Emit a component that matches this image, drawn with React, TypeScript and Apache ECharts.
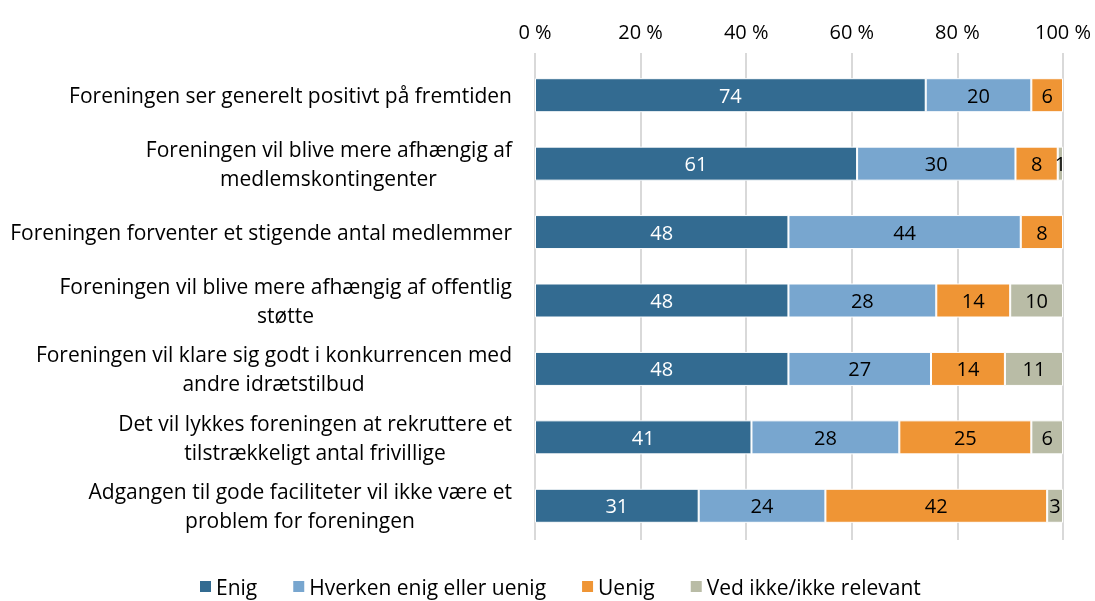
import React, { useEffect, useRef } from "react";
import * as echarts from "echarts";

const categories = [
  "Foreningen ser generelt positivt på fremtiden",
  "Foreningen vil blive mere afhængig af\nmedlemskontingenter",
  "Foreningen forventer et stigende antal medlemmer",
  "Foreningen vil blive mere afhængig af offentlig\nstøtte",
  "Foreningen vil klare sig godt i konkurrencen med\nandre idrætstilbud",
  "Det vil lykkes foreningen at rekruttere et\ntilstrækkeligt antal frivillige",
  "Adgangen til gode faciliteter vil ikke være et\nproblem for foreningen",
];

const seriesNames = ["Enig", "Hverken enig eller uenig", "Uenig", "Ved ikke/ikke relevant"];
const enig = [74, 61, 48, 48, 48, 41, 31];
const hverken = [20, 30, 44, 28, 27, 28, 24];
const uenig = [6, 8, 8, 14, 14, 25, 42];
const vedIkke = [null, 1, null, 10, 11, 6, 3];
const xTicks = { min: 0, max: 100, interval: 20 };

const colors = ["#336B91", "#78A6CF", "#EF9535", "#B9BCA6"];
const labelColors = ["#FFFFFF", "#000000", "#000000", "#000000"];
const FONT = "'Open Sans', sans-serif";
const FS = 21;
const AXFS = 20;

export default function App() {
  const ref = useRef<HTMLDivElement>(null);
  useEffect(() => {
    if (!ref.current) return;
    const chart = echarts.init(ref.current, undefined, { renderer: "svg" });
    const ctx = document.createElement("canvas").getContext("2d")!;
    ctx.font = `${FS}px ${FONT}`;
    const rich: Record<string, any> = {};
    categories.forEach((c, i) => {
      const lines = c.split("\n");
      if (lines.length > 1) {
        rich["w" + i] = {
          width: Math.ceil(ctx.measureText(lines[0]).width),
          align: "center",
          fontSize: FS,
          fontFamily: FONT,
          color: "#000",
          lineHeight: 29,
        };
      }
    });
    const all = [enig, hverken, uenig, vedIkke];
    chart.setOption({
      animation: false,
      textStyle: { fontFamily: FONT },
      color: colors,
      grid: { left: 535, right: 32, top: 61, bottom: 61 },
      legend: {
        top: 576,
        left: 198,
        padding: 0,
        itemWidth: 13,
        itemHeight: 13,
        itemGap: 34,
        icon: "rect",
        textStyle: { fontSize: FS, color: "#000", fontFamily: FONT, lineHeight: 21, padding: [0, 0, 0, -1] },
        data: seriesNames,
      },
      xAxis: {
        type: "value",
        position: "top",
        min: xTicks.min,
        max: xTicks.max,
        interval: xTicks.interval,
        axisLine: { show: false },
        axisTick: { show: true, length: 8, lineStyle: { color: "#D9D9D9", width: 2 } },
        splitLine: { show: true, lineStyle: { color: "#D9D9D9", width: 2 } },
        axisLabel: {
          formatter: "{value} %",
          fontSize: AXFS,
          color: "#000",
          fontFamily: FONT,
          margin: 20,
        },
      },
      yAxis: {
        type: "category",
        inverse: true,
        data: categories,
        axisLine: { show: false },
        axisTick: { show: false },
        axisLabel: {
          margin: 23,
          fontSize: FS,
          color: "#000",
          fontFamily: FONT,
          lineHeight: 29,
          align: "right",
          formatter: (v: string, i: number) => {
            const lines = v.split("\n");
            if (lines.length > 1) return `${lines[0]}\n{w${i}|${lines[1]}}`;
            return v;
          },
          rich,
        },
      },
      series: seriesNames.map((name, k) => ({
        name,
        type: "bar",
        stack: "total",
        barWidth: 34,
        data: all[k],
        itemStyle: { color: colors[k], borderColor: "#FFFFFF", borderWidth: 1 },
        label: {
          show: true,
          position: "inside",
          color: labelColors[k],
          fontSize: AXFS,
          fontFamily: FONT,
        },
      })),
    });
    return () => chart.dispose();
  }, []);
  return <div ref={ref} style={{ position: "fixed", left: 0, top: 0, width: 1095, height: 601 }} />;
}
